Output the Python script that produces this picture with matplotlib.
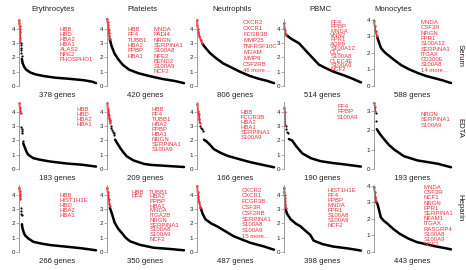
import matplotlib
matplotlib.use('Agg')
import matplotlib.pyplot as plt

plt.rcParams['font.family'] = ['Liberation Sans', 'DejaVu Sans']

cell_types = ['Erythrocytes', 'Platelets', 'Neutrophils', 'PBMC', 'Monocytes']
tubes = ['Serum', 'EDTA', 'Heparin']

n_genes = [
    [378, 420, 806, 514, 588],
    [183, 209, 166, 190, 193],
    [266, 350, 487, 398, 443],
]

y_max = [
    [4.7, 4.7, 4.7, 4.7, 4.05],
    [4.7, 4.7, 4.7, 4.7, 3.45],
    [4.7, 4.7, 4.7, 4.7, 4.05],
]

# named top genes (one inner list per text column)
genes = [
    [
        [['HBB', 'HBD', 'HBA2', 'HBA1', 'ALAS2', 'NFE2', 'PHOSPHO1']],
        [['HBB', 'PF4', 'TUBB1', 'HBA2', 'PPBP', 'HBA1'],
         ['MNDA', 'PADI4', 'NRGN', 'SERPINA1', 'S100A8', 'NFE2', 'BEND2', 'S100A9', 'NCF2']],
        [['CXCR2', 'CXCR1', 'FCGR3B', 'MMP25', 'TNFRSF10C', 'MGAM', 'MMP9', 'CSF2RB', '46 more…']],
        [['PF4', 'PPBP', 'MNDA', 'VNN2', 'FPR1', 'AQP9', 'S100A12', 'CLC', 'S100A8', 'CLEC4E',
          'S100A9', 'NCF2']],
        [['MNDA', 'CSF3R', 'NRGN', 'FPR1', 'S100A12', 'SERPINA1', 'ITGAX', 'CD300E', 'S100A8',
          '14 more…']],
    ],
    [
        [['HBB', 'HBD', 'HBA2', 'HBA1']],
        [['HBB', 'PF4', 'TUBB1', 'HBA2', 'PPBP', 'HBA1', 'NRGN', 'SERPINA1', 'S100A9']],
        [['HBB', 'FCGR3B', 'HBA2', 'HBA1', 'SERPINA1', 'S100A9']],
        [['PF4', 'PPBP', 'S100A9']],
        [['NRGN', 'SERPINA1', 'S100A9']],
    ],
    [
        [['HBB', 'HIST1H1E', 'HBD', 'HBA2', 'HBA1']],
        [['HBB', 'PF4'],
         ['TUBB1', 'HBA2', 'PPBP', 'HBA1', 'MNDA', 'ITGA2B', 'NRGN', 'SERPINA1', 'S100A8',
          'S100A9', 'NCF2']],
        [['CXCR2', 'CXCR1', 'FCGR3B', 'CSF3R', 'CSF2RB', 'SERPINA1', 'S100A8', 'S100A9',
          '15 more…']],
        [['HIST1H1E', 'PF4', 'PPBP', 'MNDA', 'FPR1', 'S100A8', 'S100A9', 'NCF2']],
        [['MNDA', 'CSF3R', 'NCF1', 'NRGN', 'FPR1', 'SERPINA1', 'NFAM1', 'ITGAX', 'RASGRP4',
          'S100A8', 'S100A9', 'NCF2']],
    ],
]

# ranked values: (ranks, values)
# red = top named genes, dots = sparse black points, tail = rest of the curve
serum_red = [
    ([1, 2, 3, 4, 5, 6, 7], [4.6, 4.4, 4.2, 4.0, 3.8, 3.4, 3.1]),
    ([1, 3, 5, 7, 9, 11, 13, 15], [4.7, 4.5, 4.3, 4.1, 3.9, 3.7, 3.5, 3.3]),
    ([1, 3, 8, 15, 25, 40, 54], [4.6, 4.3, 4.0, 3.8, 3.5, 3.2, 3.0]),
    ([1, 3, 6, 9, 12], [4.4, 4.1, 3.9, 3.7, 3.6]),
    ([1, 5, 12, 23], [3.95, 3.6, 3.3, 3.0]),
]
serum_dots = [
    ([8, 9, 10, 11, 12, 13], [3.0, 2.85, 2.7, 2.5, 2.3, 2.1]),
    ([], []),
    ([], []),
    ([], []),
    ([], []),
]
serum_tail = [
    ([14, 18, 25, 35, 55, 80, 120, 180, 250, 320, 360, 378],
     [1.9, 1.6, 1.35, 1.15, 0.95, 0.82, 0.7, 0.58, 0.5, 0.4, 0.3, 0.2]),
    ([15, 25, 40, 60, 85, 120, 170, 230, 300, 370, 420],
     [3.3, 2.8, 2.3, 1.9, 1.5, 1.15, 0.9, 0.7, 0.5, 0.35, 0.2]),
    ([54, 80, 137, 200, 270, 345, 450, 555, 650, 740, 806],
     [3.0, 2.75, 2.3, 1.95, 1.6, 1.35, 1.0, 0.7, 0.5, 0.35, 0.2]),
    ([12, 50, 100, 170, 233, 270, 330, 400, 460, 514],
     [3.6, 3.3, 3.0, 2.2, 1.5, 1.3, 1.0, 0.75, 0.5, 0.25]),
    ([23, 35, 53, 80, 107, 150, 206, 270, 336, 400, 458, 520, 588],
     [3.0, 2.7, 2.3, 2.05, 1.87, 1.6, 1.27, 1.0, 0.78, 0.6, 0.48, 0.35, 0.18]),
]

edta_red = [
    ([1, 2, 3, 4], [4.6, 4.3, 4.1, 3.9]),
    ([1, 2, 3, 4, 5, 6, 7, 8, 9], [4.6, 4.2, 4.05, 3.95, 3.8, 3.6, 3.45, 3.35, 3.25]),
    ([1, 2, 3, 4, 5, 6], [4.55, 4.05, 3.95, 3.85, 3.5, 3.25]),
    ([1, 2, 3], [4.3, 4.0, 3.1]),
    ([1, 2, 3], [3.4, 3.2, 3.0]),
]
edta_dots = [
    ([5, 6, 7, 8, 9], [2.95, 2.8, 2.65, 2.5, 1.95]),
    ([10, 12, 14, 16, 18, 20], [3.0, 2.85, 2.75, 2.6, 2.5, 2.4]),
    ([7, 9, 11, 13], [3.0, 2.9, 2.8, 2.7]),
    ([4, 6, 8, 10], [3.0, 2.8, 2.6, 2.5]),
    ([4, 5], [2.9, 2.45]),
]
edta_tail = [
    ([10, 14, 18, 22, 34, 50, 75, 115, 150, 183],
     [1.8, 1.5, 1.2, 1.0, 0.76, 0.65, 0.52, 0.38, 0.3, 0.17]),
    ([22, 28, 36, 45, 54, 72, 100, 118, 160, 209],
     [2.06, 1.8, 1.47, 1.15, 0.88, 0.6, 0.36, 0.29, 0.22, 0.14]),
    ([15, 20, 28, 36, 50, 65, 90, 116, 140, 166],
     [2.05, 1.95, 1.7, 1.4, 1.15, 0.93, 0.7, 0.47, 0.3, 0.12]),
    ([12, 20, 30, 45, 66, 90, 120, 150, 190],
     [2.1, 2.0, 1.6, 1.1, 0.76, 0.55, 0.42, 0.32, 0.17]),
    ([7, 15, 25, 37, 50, 75, 109, 160, 193],
     [2.05, 1.8, 1.54, 1.25, 1.01, 0.66, 0.44, 0.27, 0.09]),
]

heparin_red = [
    ([1, 2, 3, 4, 5], [4.5, 4.3, 4.1, 3.9, 3.7]),
    ([1, 3, 5, 8, 11, 13], [4.5, 4.2, 4.0, 3.7, 3.4, 3.2]),
    ([1, 4, 8, 14, 23], [4.6, 4.2, 3.9, 3.5, 3.1]),
    ([1, 2, 3, 4, 5, 6, 7, 8], [4.5, 4.2, 4.0, 3.8, 3.6, 3.4, 3.25, 3.1]),
    ([1, 4, 8, 12], [3.9, 3.6, 3.35, 3.1]),
]
heparin_dots = [
    ([6, 7, 8, 9], [3.1, 2.9, 2.7, 2.6]),
    ([], []),
    ([], []),
    ([], []),
    ([], []),
]
heparin_tail = [
    ([10, 12, 16, 20, 32, 50, 80, 110, 170, 220, 266],
     [1.95, 1.67, 1.4, 1.19, 0.95, 0.71, 0.58, 0.48, 0.36, 0.25, 0.12]),
    ([13, 20, 35, 50, 66, 85, 105, 150, 212, 280, 350],
     [3.1, 2.8, 2.05, 1.65, 1.36, 1.0, 0.75, 0.5, 0.3, 0.22, 0.12]),
    ([23, 35, 53, 90, 127, 180, 233, 290, 339, 420, 487],
     [3.1, 2.7, 2.3, 2.0, 1.8, 1.45, 1.1, 0.85, 0.64, 0.4, 0.16]),
    ([8, 15, 34, 60, 85, 110, 136, 153, 200, 255, 330, 398],
     [3.05, 2.7, 2.3, 2.0, 1.8, 1.5, 1.2, 0.8, 0.55, 0.38, 0.25, 0.1]),
    ([12, 20, 30, 39, 55, 79, 110, 148, 200, 246, 300, 345, 400, 443],
     [3.05, 2.9, 2.5, 2.1, 1.9, 1.7, 1.4, 1.1, 0.8, 0.6, 0.47, 0.36, 0.25, 0.16]),
]

red_pts = [serum_red, edta_red, heparin_red]
dot_pts = [serum_dots, edta_dots, heparin_dots]
tail_pts = [serum_tail, edta_tail, heparin_tail]

# layout (pixels of a 466x270 figure)
W, H = 466, 270
col_left = [19, 107, 197, 284, 374]
row_bottom = [86, 169, 252]
ax_w, ax_h = 77, 67
title_x = [53, 142, 232, 320, 393]
tube_y = [55, 128, 208]

# gene label anchors: per column of text (x, y in axes fraction), line pitch in px
label_pos = [
    [[(0.53, 0.88)], [(0.27, 0.88), (0.60, 0.88)], [(0.60, 0.985)], [(0.60, 0.985)], [(0.61, 0.985)]],
    [[(0.75, 0.93)], [(0.58, 0.93)], [(0.57, 0.88)], [(0.69, 0.97)], [(0.61, 0.85)]],
    [[(0.53, 0.88)], [(0.32, 0.93), (0.55, 0.93)], [(0.58, 0.96)], [(0.57, 0.96)], [(0.64, 1.0)]],
]
label_pitch = [
    [5.0, 5.3, 6.0, 4.3, 5.3],
    [5.2, 5.1, 5.0, 5.3, 5.3],
    [4.9, 4.7, 5.8, 5.0, 5.2],
]

RED = '#e8323c'
GREY = '#8c8c8c'

fig = plt.figure(figsize=(W / 100, H / 100), dpi=100)

for r in range(3):
    for c in range(5):
        ax = fig.add_axes([col_left[c] / W, 1 - row_bottom[r] / H, ax_w / W, ax_h / H])
        n = n_genes[r][c]
        tx, ty = tail_pts[r][c]
        ax.plot(tx, ty, '-', color='black', lw=1.8, solid_capstyle='round', clip_on=False)
        dx, dy = dot_pts[r][c]
        if dx:
            ax.plot(dx, dy, 'o', color='black', ms=1.6, mew=0, clip_on=False)
        rx, ry = red_pts[r][c]
        ax.plot(rx, ry, '-', color=RED, lw=1.3, clip_on=False)
        ax.plot(rx, ry, 'o', color=RED, ms=1.7, mew=0, clip_on=False)

        ax.set_xlim(0, n)
        ax.set_ylim(0, y_max[r][c])
        ax.set_yticks(range(0, int(y_max[r][c]) + 1))
        ax.set_xticks([])
        for s in ['top', 'right', 'bottom']:
            ax.spines[s].set_visible(False)
        ax.spines['left'].set_color(GREY)
        ax.spines['left'].set_linewidth(0.6)
        ax.tick_params(axis='y', labelsize=4.5, length=2, width=0.5, color=GREY,
                       pad=0.8, labelcolor='#222222')
        ax.patch.set_visible(False)

        for cols, (lx, ly) in zip(genes[r][c], label_pos[r][c]):
            for i, g in enumerate(cols):
                ax.annotate(g, xy=(lx, ly), xycoords='axes fraction',
                            xytext=(0, -i * label_pitch[r][c] * 0.72), textcoords='offset points',
                            va='top', ha='left', fontsize=4.3, color=RED)

        ax.text(0.5, -0.135, f'{n} genes', transform=ax.transAxes, ha='center', va='center',
                fontsize=5.6, color='#222222')

for c, name in enumerate(cell_types):
    fig.text(title_x[c] / W, 1 - 9.5 / H, name, ha='center', va='center', fontsize=5.6,
             color='#222222')

for r, name in enumerate(tubes):
    fig.text(460 / W, 1 - tube_y[r] / H, name, ha='center', va='center', rotation=270,
             fontsize=5.6, color='#222222')

fig.savefig('out.png', dpi=100)
